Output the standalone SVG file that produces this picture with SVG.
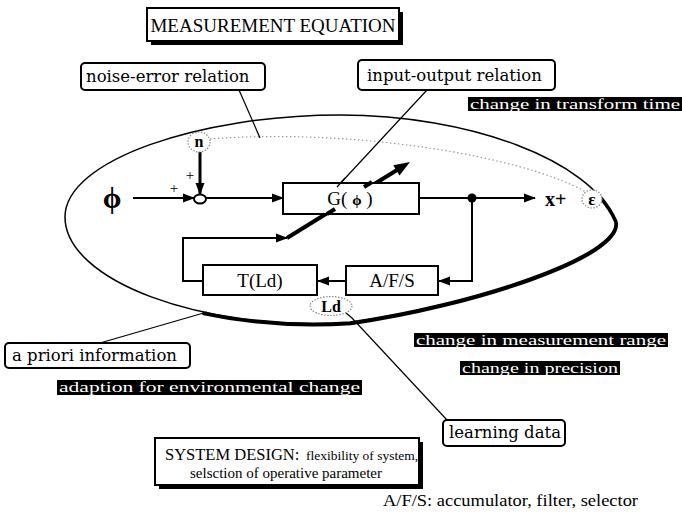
<svg xmlns="http://www.w3.org/2000/svg" width="682" height="515" viewBox="0 0 682 515">
<style>
.box{fill:#fff;stroke:#000;stroke-width:2}
.lbl{fill:#fff;stroke:#000;stroke-width:2}
.ser{font-family:"Liberation Serif","Times New Roman",serif;fill:#000}
.lab{font-family:"DejaVu Serif","Liberation Serif",serif;font-size:16.5px;fill:#000}
.flow{fill:none;stroke:#000;stroke-width:2}
.thin{fill:none;stroke:#000;stroke-width:1.2}
.dot{fill:#fff;stroke:#888;stroke-width:1.2;stroke-dasharray:1.5 1.5}
.hl{fill:#000}
.hlt{font-family:"Liberation Serif","Times New Roman",serif;font-size:14px;fill:#fff}
</style>
<defs>
<marker id="ah" markerUnits="userSpaceOnUse" markerWidth="12" markerHeight="10" refX="11" refY="5" orient="auto">
<path d="M0,0.5 L12,5 L0,9.5 z" fill="#000"/>
</marker>
</defs>
<rect width="682" height="515" fill="#fff"/>

<g id="ellipse">
<path d="M65,217 C65,160 200,115 340,115 C470,115 590,160 615,220 C625,255 470,305 350,322 C200,332 65,280 65,217 Z" fill="none" stroke="#000" stroke-width="1.5"/>
<path d="M598,194 C605.4,202.6 611.25,211 615,220 C625,255 470,305 350,322 C297.5,325.5 246.7,321.3 203,312" transform="translate(0.8,1.5)" fill="none" stroke="#000" stroke-width="3.5" stroke-linecap="round"/>
</g>

<g id="title">
<rect x="151" y="12" width="252" height="33" fill="#000"/>
<rect class="box" x="147" y="8" width="252" height="33"/>
<text class="ser" x="273" y="32" font-size="19" text-anchor="middle">MEASUREMENT EQUATION</text>
</g>

<g id="connectors">
<path d="M210,139 C350,128 520,155 586,192" fill="none" stroke="#999" stroke-width="1.2" stroke-dasharray="1.5 2.5"/>
<line class="thin" x1="239" y1="90" x2="260" y2="138"/>
<line class="thin" x1="427" y1="90" x2="337" y2="187"/>
<line class="thin" x1="100" y1="343" x2="207" y2="312"/>
<polyline class="thin" points="346,313 352,318 447,420"/>
<line class="flow" x1="133" y1="198" x2="194" y2="198" marker-end="url(#ah)"/>
<line x1="200" y1="152" x2="200" y2="194" stroke="#000" stroke-width="3" marker-end="url(#ah)"/>
<line class="flow" x1="206" y1="198" x2="283" y2="198" marker-end="url(#ah)"/>
<line class="flow" x1="419" y1="198" x2="535" y2="198" marker-end="url(#ah)"/>
<polyline class="flow" points="472,198 472,281 439,281" marker-end="url(#ah)"/>
<line class="flow" x1="346" y1="281" x2="318" y2="281" marker-end="url(#ah)"/>
<polyline class="flow" points="203,281 183,281 183,238 287,238" marker-end="url(#ah)"/>
<line x1="287" y1="238" x2="397" y2="170" stroke="#000" stroke-width="4"/>
<polygon points="410,162 399.5,175.5 393.3,165.3" fill="#000"/>
<circle cx="472" cy="198" r="4.5" fill="#000"/>
</g>

<g id="phi"><text class="ser" x="112" y="208" font-size="30" font-weight="bold" text-anchor="middle">ϕ</text></g>
<g id="sum">
<ellipse cx="200" cy="199" rx="6" ry="4.5" fill="#fff" stroke="#000" stroke-width="2"/>
<text class="ser" x="190" y="180" font-size="15" text-anchor="middle">+</text>
<text class="ser" x="174" y="193" font-size="15" text-anchor="middle">+</text>
</g>
<g id="n">
<ellipse class="dot" cx="199" cy="142" rx="11" ry="10"/>
<text class="ser" x="199" y="147" font-size="16" font-weight="bold" text-anchor="middle">n</text>
</g>

<g id="G">
<rect class="box" x="283" y="183" width="136" height="31"/>
<line x1="327" y1="214" x2="335" y2="209" stroke="#000" stroke-width="4"/>
<line x1="364" y1="187" x2="372" y2="182" stroke="#000" stroke-width="4"/>
<text class="ser" x="350" y="205" font-size="19" text-anchor="middle">G( <tspan font-size="15" font-weight="bold">ϕ</tspan> )</text>
</g>
<line class="thin" x1="345" y1="178" x2="337" y2="187"/>

<g id="T">
<rect class="box" x="203" y="265" width="114" height="30"/>
<text class="ser" x="260" y="287" font-size="19" text-anchor="middle">T(Ld)</text>
</g>
<g id="AFS">
<rect class="box" x="346" y="266" width="92" height="29"/>
<text class="ser" x="392" y="287" font-size="19" text-anchor="middle">A/F/S</text>
</g>
<g id="Ld">
<ellipse class="dot" cx="331" cy="306" rx="21" ry="9.5"/>
<text class="ser" x="331" y="312" font-size="16" font-weight="bold" text-anchor="middle">Ld</text>
</g>
<g id="out">
<text class="ser" x="545" y="206" font-size="20" font-weight="bold">x+</text>
<ellipse class="dot" cx="592" cy="199" rx="10" ry="9"/>
<text class="ser" x="592" y="205" font-size="17" font-weight="bold" text-anchor="middle">ε</text>
</g>

<g id="noise-error">
<rect class="lbl" x="81" y="63" width="184" height="27" rx="4"/>
<text class="lab" x="86" y="82">noise-error relation</text>
</g>
<g id="input-output">
<rect class="lbl" x="358" y="60" width="197" height="30" rx="4"/>
<text class="lab" x="367" y="81">input-output relation</text>
</g>
<g id="apriori">
<rect class="lbl" x="5" y="343" width="185" height="25" rx="4"/>
<text class="lab" x="12" y="361">a priori information</text>
</g>
<g id="learning">
<rect class="lbl" x="443" y="420" width="122" height="26" rx="4"/>
<text class="lab" x="449" y="438">learning data</text>
</g>

<g id="hl1"><rect class="hl" x="468" y="97" width="214" height="14"/><text class="hlt" x="470" y="109" textLength="210" lengthAdjust="spacingAndGlyphs">change in transform time</text></g>
<g id="hl2"><rect class="hl" x="414" y="333" width="254" height="14"/><text class="hlt" x="416" y="345" textLength="250" lengthAdjust="spacingAndGlyphs">change in measurement range</text></g>
<g id="hl3"><rect class="hl" x="460" y="361" width="160" height="14"/><text class="hlt" x="462" y="373" textLength="156" lengthAdjust="spacingAndGlyphs">change in precision</text></g>
<g id="hl4"><rect class="hl" x="57" y="380" width="305" height="15"/><text class="hlt" x="59" y="392" textLength="301" lengthAdjust="spacingAndGlyphs">adaption for environmental change</text></g>

<g id="system-design">
<rect x="159" y="442" width="264" height="47" fill="#000"/>
<rect class="box" x="155" y="438" width="264" height="47"/>
<text class="ser" x="165" y="460" font-size="16.5">SYSTEM DESIGN:</text>
<text class="ser" x="306" y="460" font-size="13.5">flexibility of system,</text>
<text class="ser" x="190" y="478" font-size="15">selsction of operative parameter</text>
</g>
<text class="ser" x="383" y="506" font-size="17" textLength="255" lengthAdjust="spacingAndGlyphs">A/F/S: accumulator, filter, selector</text>
</svg>
